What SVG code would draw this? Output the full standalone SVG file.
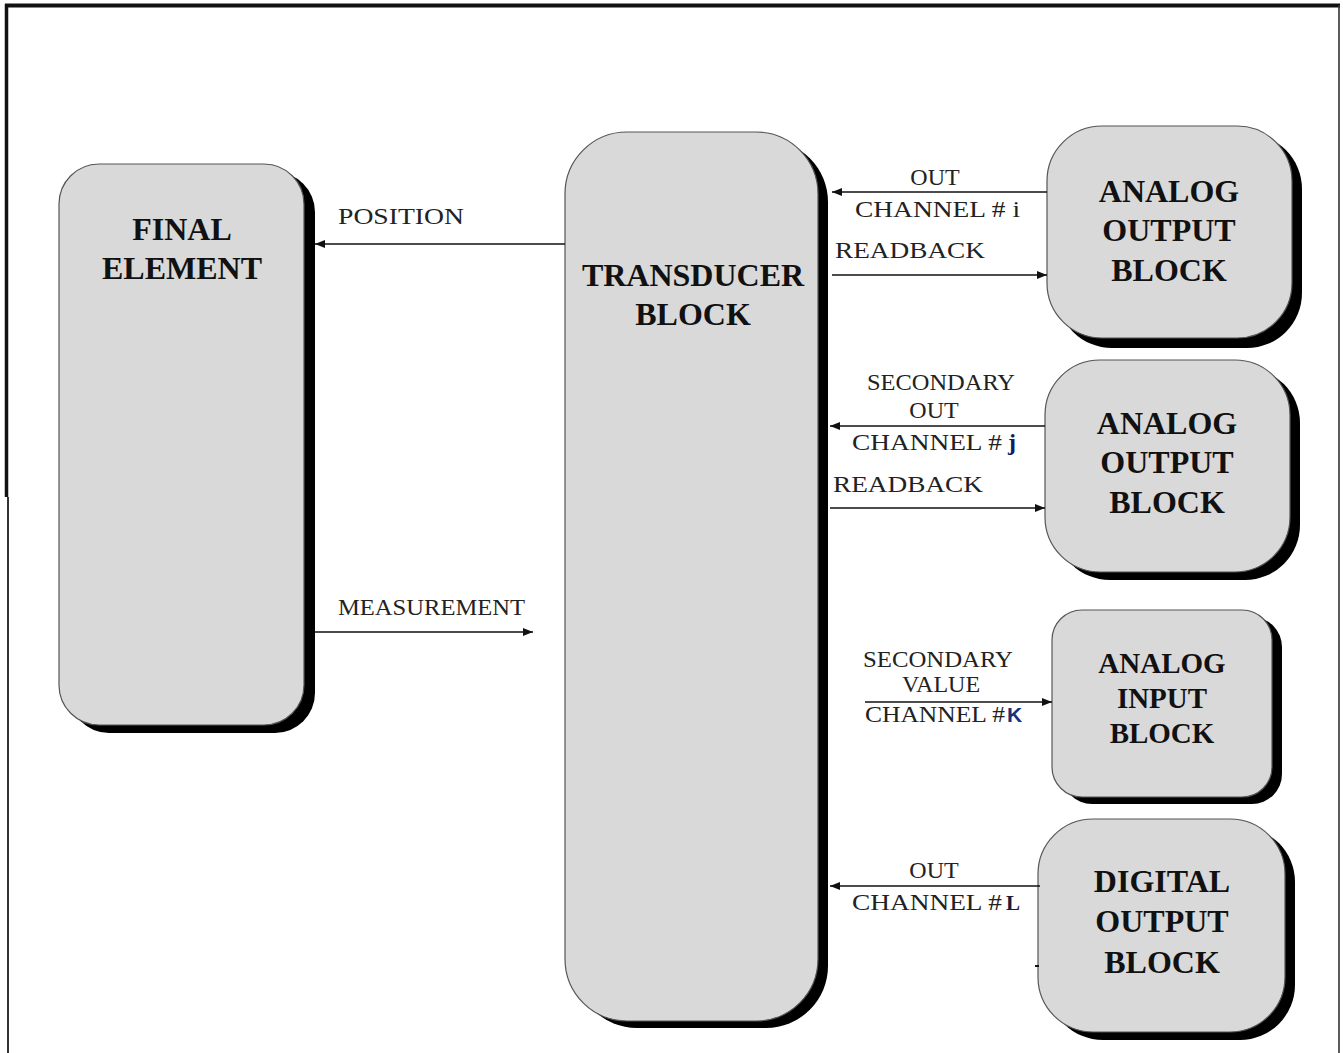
<svg xmlns="http://www.w3.org/2000/svg" width="1343" height="1053" viewBox="0 0 1343 1053">
  <style>
    .shadow { fill: #000; }
    .box { fill: #d9d9d9; stroke: #555; stroke-width: 1.2; }
    .title { font-family: "Liberation Serif", "Times New Roman", serif; font-weight: bold; font-size: 32px; fill: #111; text-anchor: middle; }
    .lbl { font-family: "Liberation Serif", "Times New Roman", serif; font-size: 24px; fill: #222; }
    .mid { text-anchor: middle; }
    .wire { stroke: #111; stroke-width: 1.6; fill: none; marker-end: url(#tip); }
  </style>
  <defs>
    <marker id="tip" viewBox="0 0 10 8" refX="10" refY="4" markerWidth="10" markerHeight="8" markerUnits="userSpaceOnUse" orient="auto">
      <path d="M0,0 L10,4 L0,8 Z" fill="#111"/>
    </marker>
  </defs>

  <rect width="1343" height="1053" fill="#fff"/>

  <!-- page frame -->
  <g id="frame" fill="none">
    <line x1="5" y1="5.5" x2="1340" y2="5.5" stroke="#111" stroke-width="4"/>
    <line x1="1339" y1="5" x2="1339" y2="1053" stroke="#333" stroke-width="1.6"/>
    <line x1="6.5" y1="4" x2="6.5" y2="497" stroke="#111" stroke-width="3.5"/>
    <line x1="8" y1="497" x2="8" y2="1053" stroke="#333" stroke-width="2"/>
  </g>

  <!-- final element -->
  <g id="final-element">
    <rect class="shadow" x="69" y="172" width="246" height="561" rx="40"/>
    <rect class="box" x="59" y="164" width="245" height="561" rx="40"/>
    <text class="title" x="182" y="240">FINAL</text>
    <text class="title" x="182" y="279">ELEMENT</text>
  </g>

  <!-- transducer block -->
  <g id="transducer-block">
    <rect class="shadow" x="575" y="140" width="253" height="888" rx="62"/>
    <rect class="box" x="565" y="132" width="253" height="889" rx="62"/>
    <text class="title" x="693" y="286">TRANSDUCER</text>
    <text class="title" x="693" y="325">BLOCK</text>
  </g>

  <!-- analog output block (channel i) -->
  <g id="analog-output-i">
    <rect class="shadow" x="1057" y="134" width="245" height="214" rx="55"/>
    <rect class="box" x="1047" y="126" width="245" height="212" rx="55"/>
    <text class="title" x="1169" y="202">ANALOG</text>
    <text class="title" x="1169" y="241">OUTPUT</text>
    <text class="title" x="1169" y="281">BLOCK</text>
  </g>

  <!-- analog output block (channel j) -->
  <g id="analog-output-j">
    <rect class="shadow" x="1055" y="368" width="245" height="212" rx="55"/>
    <rect class="box" x="1045" y="360" width="245" height="212" rx="55"/>
    <text class="title" x="1167" y="434">ANALOG</text>
    <text class="title" x="1167" y="473">OUTPUT</text>
    <text class="title" x="1167" y="513">BLOCK</text>
  </g>

  <!-- analog input block (channel K) -->
  <g id="analog-input-k">
    <rect class="shadow" x="1062" y="617" width="220" height="187" rx="30"/>
    <rect class="box" x="1052" y="610" width="220" height="187" rx="30"/>
    <text class="title" x="1162" y="673" style="font-size:29px">ANALOG</text>
    <text class="title" x="1162" y="708" style="font-size:29px">INPUT</text>
    <text class="title" x="1162" y="743" style="font-size:29px">BLOCK</text>
  </g>

  <!-- digital output block (channel L) -->
  <g id="digital-output-l">
    <rect class="shadow" x="1048" y="827" width="247" height="213" rx="55"/>
    <rect class="box" x="1038" y="819" width="247" height="213" rx="55"/>
    <text class="title" x="1162" y="892">DIGITAL</text>
    <text class="title" x="1162" y="932">OUTPUT</text>
    <text class="title" x="1162" y="973">BLOCK</text>
  </g>

  <!-- signal connectors -->
  <g id="connectors">
    <line class="wire" x1="565" y1="244" x2="315" y2="244"/>
    <line class="wire" x1="315" y1="632" x2="533" y2="632"/>
    <line class="wire" x1="1047" y1="192" x2="832" y2="192"/>
    <line class="wire" x1="832" y1="275" x2="1047" y2="275"/>
    <line class="wire" x1="1045" y1="426" x2="830" y2="426"/>
    <line class="wire" x1="830" y1="508" x2="1045" y2="508"/>
    <line class="wire" x1="865" y1="702" x2="1052" y2="702"/>
    <line class="wire" x1="1040" y1="886" x2="830" y2="886"/>
    <line x1="1035" y1="966" x2="1039" y2="966" stroke="#111" stroke-width="2"/>
  </g>

  <!-- connector labels -->
  <g id="labels">
    <text class="lbl" x="338" y="224" textLength="126" lengthAdjust="spacingAndGlyphs">POSITION</text>
    <text class="lbl" x="338" y="615" textLength="187" lengthAdjust="spacingAndGlyphs">MEASUREMENT</text>

    <text class="lbl mid" x="935" y="185">OUT</text>
    <text class="lbl" x="855" y="217" textLength="165" lengthAdjust="spacingAndGlyphs">CHANNEL # i</text>
    <text class="lbl" x="835" y="258" textLength="150" lengthAdjust="spacingAndGlyphs">READBACK</text>

    <text class="lbl" x="867" y="390" textLength="148" lengthAdjust="spacingAndGlyphs">SECONDARY</text>
    <text class="lbl mid" x="934" y="418">OUT</text>
    <text class="lbl" x="852" y="450" textLength="150" lengthAdjust="spacingAndGlyphs">CHANNEL # </text>
    <text class="lbl" x="1008" y="450" style="fill:#0b1f66;font-weight:bold">j</text>
    <text class="lbl" x="833" y="492" textLength="150" lengthAdjust="spacingAndGlyphs">READBACK</text>

    <text class="lbl" x="863" y="667" textLength="150" lengthAdjust="spacingAndGlyphs">SECONDARY</text>
    <text class="lbl mid" x="941" y="692">VALUE</text>
    <text class="lbl" x="865" y="722" textLength="140" lengthAdjust="spacingAndGlyphs">CHANNEL #</text>
    <text x="1007" y="722" style="font-family:'Liberation Sans',Arial,sans-serif;font-size:21px;font-weight:bold;fill:#1a2f7a">K</text>

    <text class="lbl mid" x="934" y="878">OUT</text>
    <text class="lbl" x="852" y="910" textLength="150" lengthAdjust="spacingAndGlyphs">CHANNEL #</text>
    <text x="1006" y="910" style="font-family:'Liberation Serif',serif;font-size:21px;font-weight:bold;fill:#1a1a3a">L</text>
  </g>
</svg>
